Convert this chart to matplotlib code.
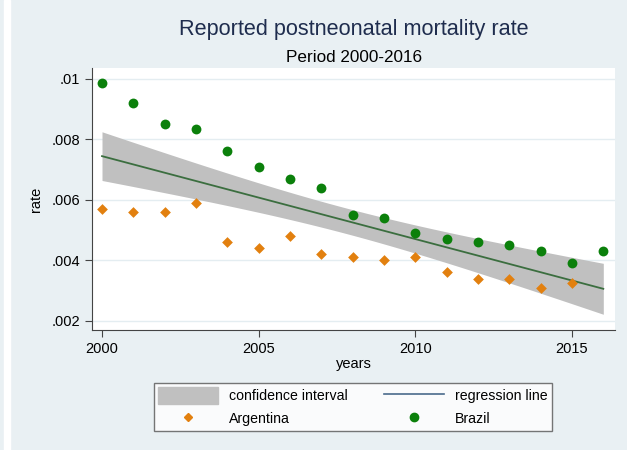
import numpy as np
import matplotlib.pyplot as plt
from matplotlib.patches import Patch, Rectangle
from matplotlib.lines import Line2D

plt.rcParams['font.family'] = ['Liberation Sans', 'DejaVu Sans']

# data
years_br = [2000, 2001, 2002, 2003, 2004, 2005, 2006, 2007, 2008,
            2009, 2010, 2011, 2012, 2013, 2014, 2015, 2016]
brazil = [0.00985, 0.0092, 0.0085, 0.00835, 0.0076, 0.0071, 0.0067, 0.0064, 0.0055,
          0.0054, 0.0049, 0.0047, 0.0046, 0.0045, 0.0043, 0.0039, 0.0043]
years_ar = [2000, 2001, 2002, 2003, 2004, 2005, 2006, 2007, 2008,
            2009, 2010, 2011, 2012, 2013, 2014, 2015]
argentina = [0.0057, 0.0056, 0.0056, 0.0059, 0.0046, 0.0044, 0.0048, 0.0042, 0.0041,
             0.0040, 0.0041, 0.0036, 0.0034, 0.0034, 0.0031, 0.00325]

yticks = [0.002, 0.004, 0.006, 0.008, 0.01]
ytick_labels = ['.002', '.004', '.006', '.008', '.01']
xticks = [2000, 2005, 2010, 2015]

# pooled linear fit with 95% CI of the mean
x = np.array(years_ar + years_br, dtype=float)
y = np.array(argentina + brazil)
slope, icpt = np.polyfit(x, y, 1)
resid = y - (slope * x + icpt)
n = len(x)
s = np.sqrt(np.sum(resid ** 2) / (n - 2))
xs = np.linspace(2000, 2016, 50)
fit = slope * xs + icpt
se = s * np.sqrt(1 / n + (xs - x.mean()) ** 2 / np.sum((x - x.mean()) ** 2))
t = 2.04

fig = plt.figure(figsize=(6.27, 4.5), dpi=100)
fig.patch.set_facecolor('#e9f0f3')
fig.add_artist(Rectangle((4 / 627, 0), 6 / 627, 1, transform=fig.transFigure,
                         color='white', zorder=0))
ax = fig.add_axes([0.1467, 0.2667, 0.834, 0.5823])
ax.set_facecolor('white')

ax.fill_between(xs, fit - t * se, fit + t * se, color='#c0c0c0', lw=0, zorder=2)
ax.plot(xs, fit, color='#3b6e3f', lw=1.3, zorder=3)
ax.scatter(years_ar, argentina, marker='D', s=30, color='#e2800f', lw=0, zorder=4)
ax.scatter(years_br, brazil, marker='o', s=50, color='#0b800b', lw=0, zorder=4)

ax.set_xlim(1999.68, 2016.37)
ax.set_ylim(0.0017, 0.01036)
ax.set_yticks(yticks)
ax.set_yticklabels(ytick_labels)
ax.set_xticks(xticks)
ax.grid(axis='y', color='#e4edf1', lw=1)
ax.set_axisbelow(True)
for sp in ['top', 'right']:
    ax.spines[sp].set_visible(False)
for sp in ['left', 'bottom']:
    ax.spines[sp].set_color('#444444')
ax.tick_params(colors='#444444', labelcolor='black', labelsize=10.5, length=5)
ax.set_xlabel('years', fontsize=10.5, labelpad=1)
ax.set_ylabel('rate', fontsize=10.5, labelpad=6)

fig.text(0.565, 0.935, 'Reported postneonatal mortality rate', ha='center', va='center',
         fontsize=15.6, color='#1f2d4e')
fig.text(0.565, 0.873, 'Period 2000-2016', ha='center', va='center', fontsize=12.3)

handles = [Patch(color='#c0c0c0'),
           Line2D([], [], marker='D', ls='', color='#e2800f', markersize=4.5),
           Line2D([], [], color='#4a6a8c', lw=1.2),
           Line2D([], [], marker='o', ls='', color='#0b800b', markersize=6)]
labels = ['confidence interval', 'Argentina', 'regression line', 'Brazil']
leg = fig.legend(handles, labels, ncol=2, loc='center', bbox_to_anchor=(0.563, 0.0956),
                 fontsize=10.2, frameon=True, fancybox=False, edgecolor='#555555',
                 handlelength=4.2, handleheight=1.4, columnspacing=2.6,
                 labelspacing=0.45, borderpad=0.3, handletextpad=0.8)
leg.get_frame().set_linewidth(1)

fig.savefig('out.png', dpi=100, facecolor=fig.get_facecolor())
